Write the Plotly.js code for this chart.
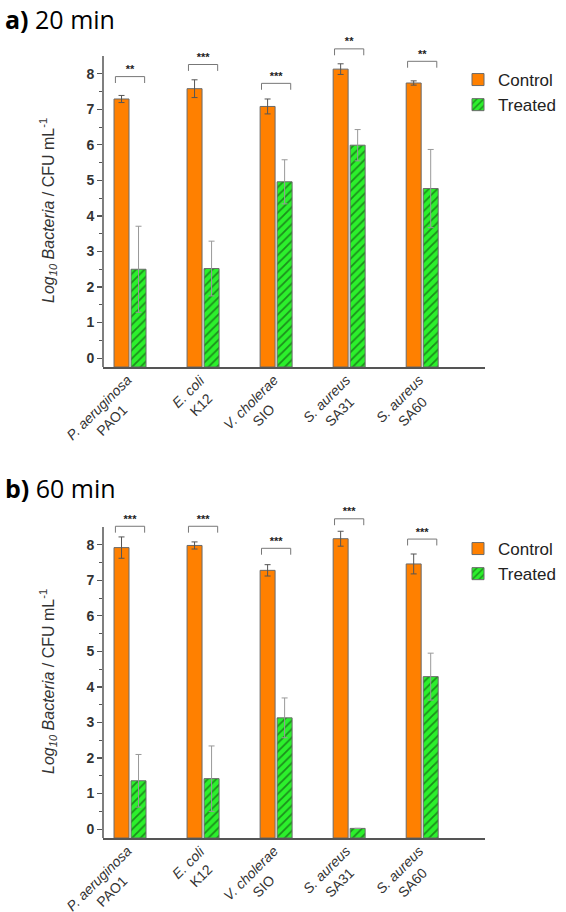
<!DOCTYPE html>
<html>
<head>
<meta charset="utf-8">
<script src="https://cdn.plot.ly/plotly-3.0.1.min.js"></script>
<style>html,body{margin:0;padding:0;background:#fff;}#chart{width:566px;height:912px;}</style>
</head>
<body>
<div id="chart"></div>
<script>
// ---- data ----
const species = ["P. aeruginosa", "E. coli", "V. cholerae", "S. aureus", "S. aureus"];
const strains = ["PAO1", "K12", "SIO", "SA31", "SA60"];
const yTicks = [0, 1, 2, 3, 4, 5, 6, 7, 8];
const yMinorTicks = [0.5, 1.5, 2.5, 3.5, 4.5, 5.5, 6.5, 7.5];

// panel a: 20 min
const ctrl20 = [7.29, 7.58, 7.08, 8.13, 7.74];
const ctrl20Err = [0.10, 0.25, 0.21, 0.15, 0.06];
const treat20 = [2.50, 2.52, 4.96, 5.99, 4.77];
const treat20Err = [1.21, 0.77, 0.62, 0.44, 1.10];
const sig20 = ["**", "***", "***", "**", "**"];
const sig20Level = [7.92, 8.26, 7.73, 8.70, 8.35];

// panel b: 60 min
const ctrl60 = [7.92, 7.98, 7.28, 8.17, 7.46];
const ctrl60Err = [0.30, 0.10, 0.16, 0.21, 0.28];
const treat60 = [1.36, 1.42, 3.13, 0.02, 4.29];
const treat60Err = [0.74, 0.92, 0.56, 0.00, 0.66];
const sig60 = ["***", "***", "***", "***", "***"];
const sig60Level = [8.52, 8.52, 7.90, 8.73, 8.16];

// ---- style ----
const Y_MIN = -0.25, Y_SPINE_TOP = 8.5, Y_MAX = 9.2;
const W = 566, H = 912;
const FONT = "Arial, 'Liberation Sans', sans-serif";
const ORANGE = "#ff8000";
const xIdx = species.map((_, i) => i);

function barTraces(ctrl, ctrlErr, treat, treatErr, xa, ya, leg) {
  return [
    {
      type: "bar", x: xIdx, y: ctrl.map(v => v - Y_MIN), base: Y_MIN,
      name: "Control", xaxis: xa, yaxis: ya, legend: leg,
      marker: { color: ORANGE, line: { color: "#6a6a6a", width: 1 } },
      error_y: { type: "data", array: ctrlErr, visible: true, color: "#555", thickness: 1, width: 3 },
      hoverinfo: "skip"
    },
    {
      type: "bar", x: xIdx, y: treat.map(v => v - Y_MIN), base: Y_MIN,
      name: "Treated", xaxis: xa, yaxis: ya, legend: leg,
      marker: {
        color: "#33ee33", line: { color: "#6a6a6a", width: 1 },
        pattern: { shape: "/", bgcolor: "#2cf02c", fgcolor: "#1c8f1c", size: 6, solidity: 0.3 }
      },
      error_y: { type: "data", array: treatErr, visible: true, color: "#999", thickness: 1, width: 3 },
      hoverinfo: "skip"
    }
  ];
}

function bracketTraces(level, stars, xa, ya) {
  const bx = [], by = [];
  level.forEach((lv, i) => {
    bx.push(i - 0.2, i - 0.2, i + 0.2, i + 0.2, null);
    by.push(lv - 0.18, lv, lv, lv - 0.18, null);
  });
  return [
    {
      type: "scatter", mode: "lines", x: bx, y: by, xaxis: xa, yaxis: ya,
      line: { color: "#777", width: 1 }, cliponaxis: false, showlegend: false, hoverinfo: "skip"
    },
    {
      type: "scatter", mode: "text", x: xIdx, y: level.map(v => v + 0.02), text: stars,
      textposition: "top center", xaxis: xa, yaxis: ya,
      textfont: { family: FONT, size: 11, color: "#222", weight: "bold" },
      cliponaxis: false, showlegend: false, hoverinfo: "skip"
    }
  ];
}

const data = [
  ...barTraces(ctrl20, ctrl20Err, treat20, treat20Err, "x", "y", "legend"),
  ...bracketTraces(sig20Level, sig20, "x", "y"),
  ...barTraces(ctrl60, ctrl60Err, treat60, treat60Err, "x2", "y2", "legend2"),
  ...bracketTraces(sig60Level, sig60, "x2", "y2")
];

const xDomain = [103 / W, 485 / W];
const yDomA = [1 - 367 / H, 1 - 31.1 / H];
const yDomB = [1 - 838 / H, 1 - 502.1 / H];

function xAxis(anchor) {
  return {
    domain: xDomain, anchor: anchor, range: [-0.37, 4.86], type: "linear",
    showline: true, linecolor: "#555", linewidth: 1.5, ticks: "", showticklabels: false,
    showgrid: false, zeroline: false, fixedrange: true
  };
}
function yAxis(domain, anchor) {
  return {
    domain: domain, anchor: anchor, range: [Y_MIN, Y_MAX],
    tickmode: "array", tickvals: yTicks, ticktext: yTicks.map(String),
    showline: false,
    ticks: "outside", ticklen: 5, tickwidth: 1.2, tickcolor: "#555",
    minor: { tickmode: "array", tickvals: yMinorTicks, ticks: "outside", ticklen: 3, tickcolor: "#555", tickwidth: 1 },
    tickfont: { family: FONT, size: 14, color: "#333", weight: "bold" },
    showgrid: false, zeroline: false, fixedrange: true
  };
}

const shapes = [];
["y", "y2"].forEach((ya, k) => {
  shapes.push({
    type: "line", xref: (k === 0 ? "x" : "x2") + " domain", yref: ya,
    x0: 0, x1: 0, y0: Y_MIN, y1: Y_SPINE_TOP, line: { color: "#555", width: 1.5 }
  });
});

const annotations = [];
function addPanelText(letter, label, yCenterPx, xa, ya, plotMidPx) {
  annotations.push({
    text: "<b>" + letter + ")</b> " + label, xref: "paper", yref: "paper",
    x: 3 / W, y: 1 - yCenterPx / H, xanchor: "left", yanchor: "middle", showarrow: false,
    font: { family: "'Open Sans', 'Noto Sans', sans-serif", size: 25, color: "#000" }
  });
  annotations.push({
    text: "<i>Log</i><sub><i>10</i></sub> <i>Bacteria</i> / CFU mL<sup>-1</sup>",
    xref: "paper", yref: "paper", x: 48 / W, y: 1 - plotMidPx / H, textangle: -90,
    xanchor: "center", yanchor: "middle", showarrow: false,
    font: { family: FONT, size: 16, color: "#333" }
  });
  species.forEach((sp, i) => {
    annotations.push({
      text: "<i>" + sp + "</i><br>" + strains[i], xref: xa, yref: ya, x: i, y: Y_MIN,
      xanchor: "right", yanchor: "top", textangle: -45, xshift: 20, yshift: -2,
      align: "center", showarrow: false,
      font: { family: FONT, size: 14, color: "#333" }
    });
  });
}
addPanelText("a", "20 min", 19, "x", "y", 211);
addPanelText("b", "60 min", 488, "x2", "y2", 682);

const legendStyle = (yTopPx) => ({
  x: 458 / W, y: 1 - yTopPx / H, xanchor: "left", yanchor: "top",
  font: { family: FONT, size: 17, color: "#222" }, bgcolor: "rgba(0,0,0,0)",
  traceorder: "normal", itemclick: false, itemdoubleclick: false
});

const layout = {
  width: W, height: H, margin: { l: 0, r: 0, t: 0, b: 0 },
  paper_bgcolor: "#fff", plot_bgcolor: "#fff",
  barmode: "group", bargap: 0.534, bargroupgap: 0.12,
  showlegend: true,
  xaxis: xAxis("y"), yaxis: yAxis(yDomA, "x"),
  xaxis2: xAxis("y2"), yaxis2: yAxis(yDomB, "x2"),
  legend: legendStyle(62),
  legend2: legendStyle(531),
  shapes: shapes,
  annotations: annotations,
  font: { family: FONT }
};

Plotly.newPlot("chart", data, layout, { displayModeBar: false, staticPlot: true });
</script>
</body>
</html>
